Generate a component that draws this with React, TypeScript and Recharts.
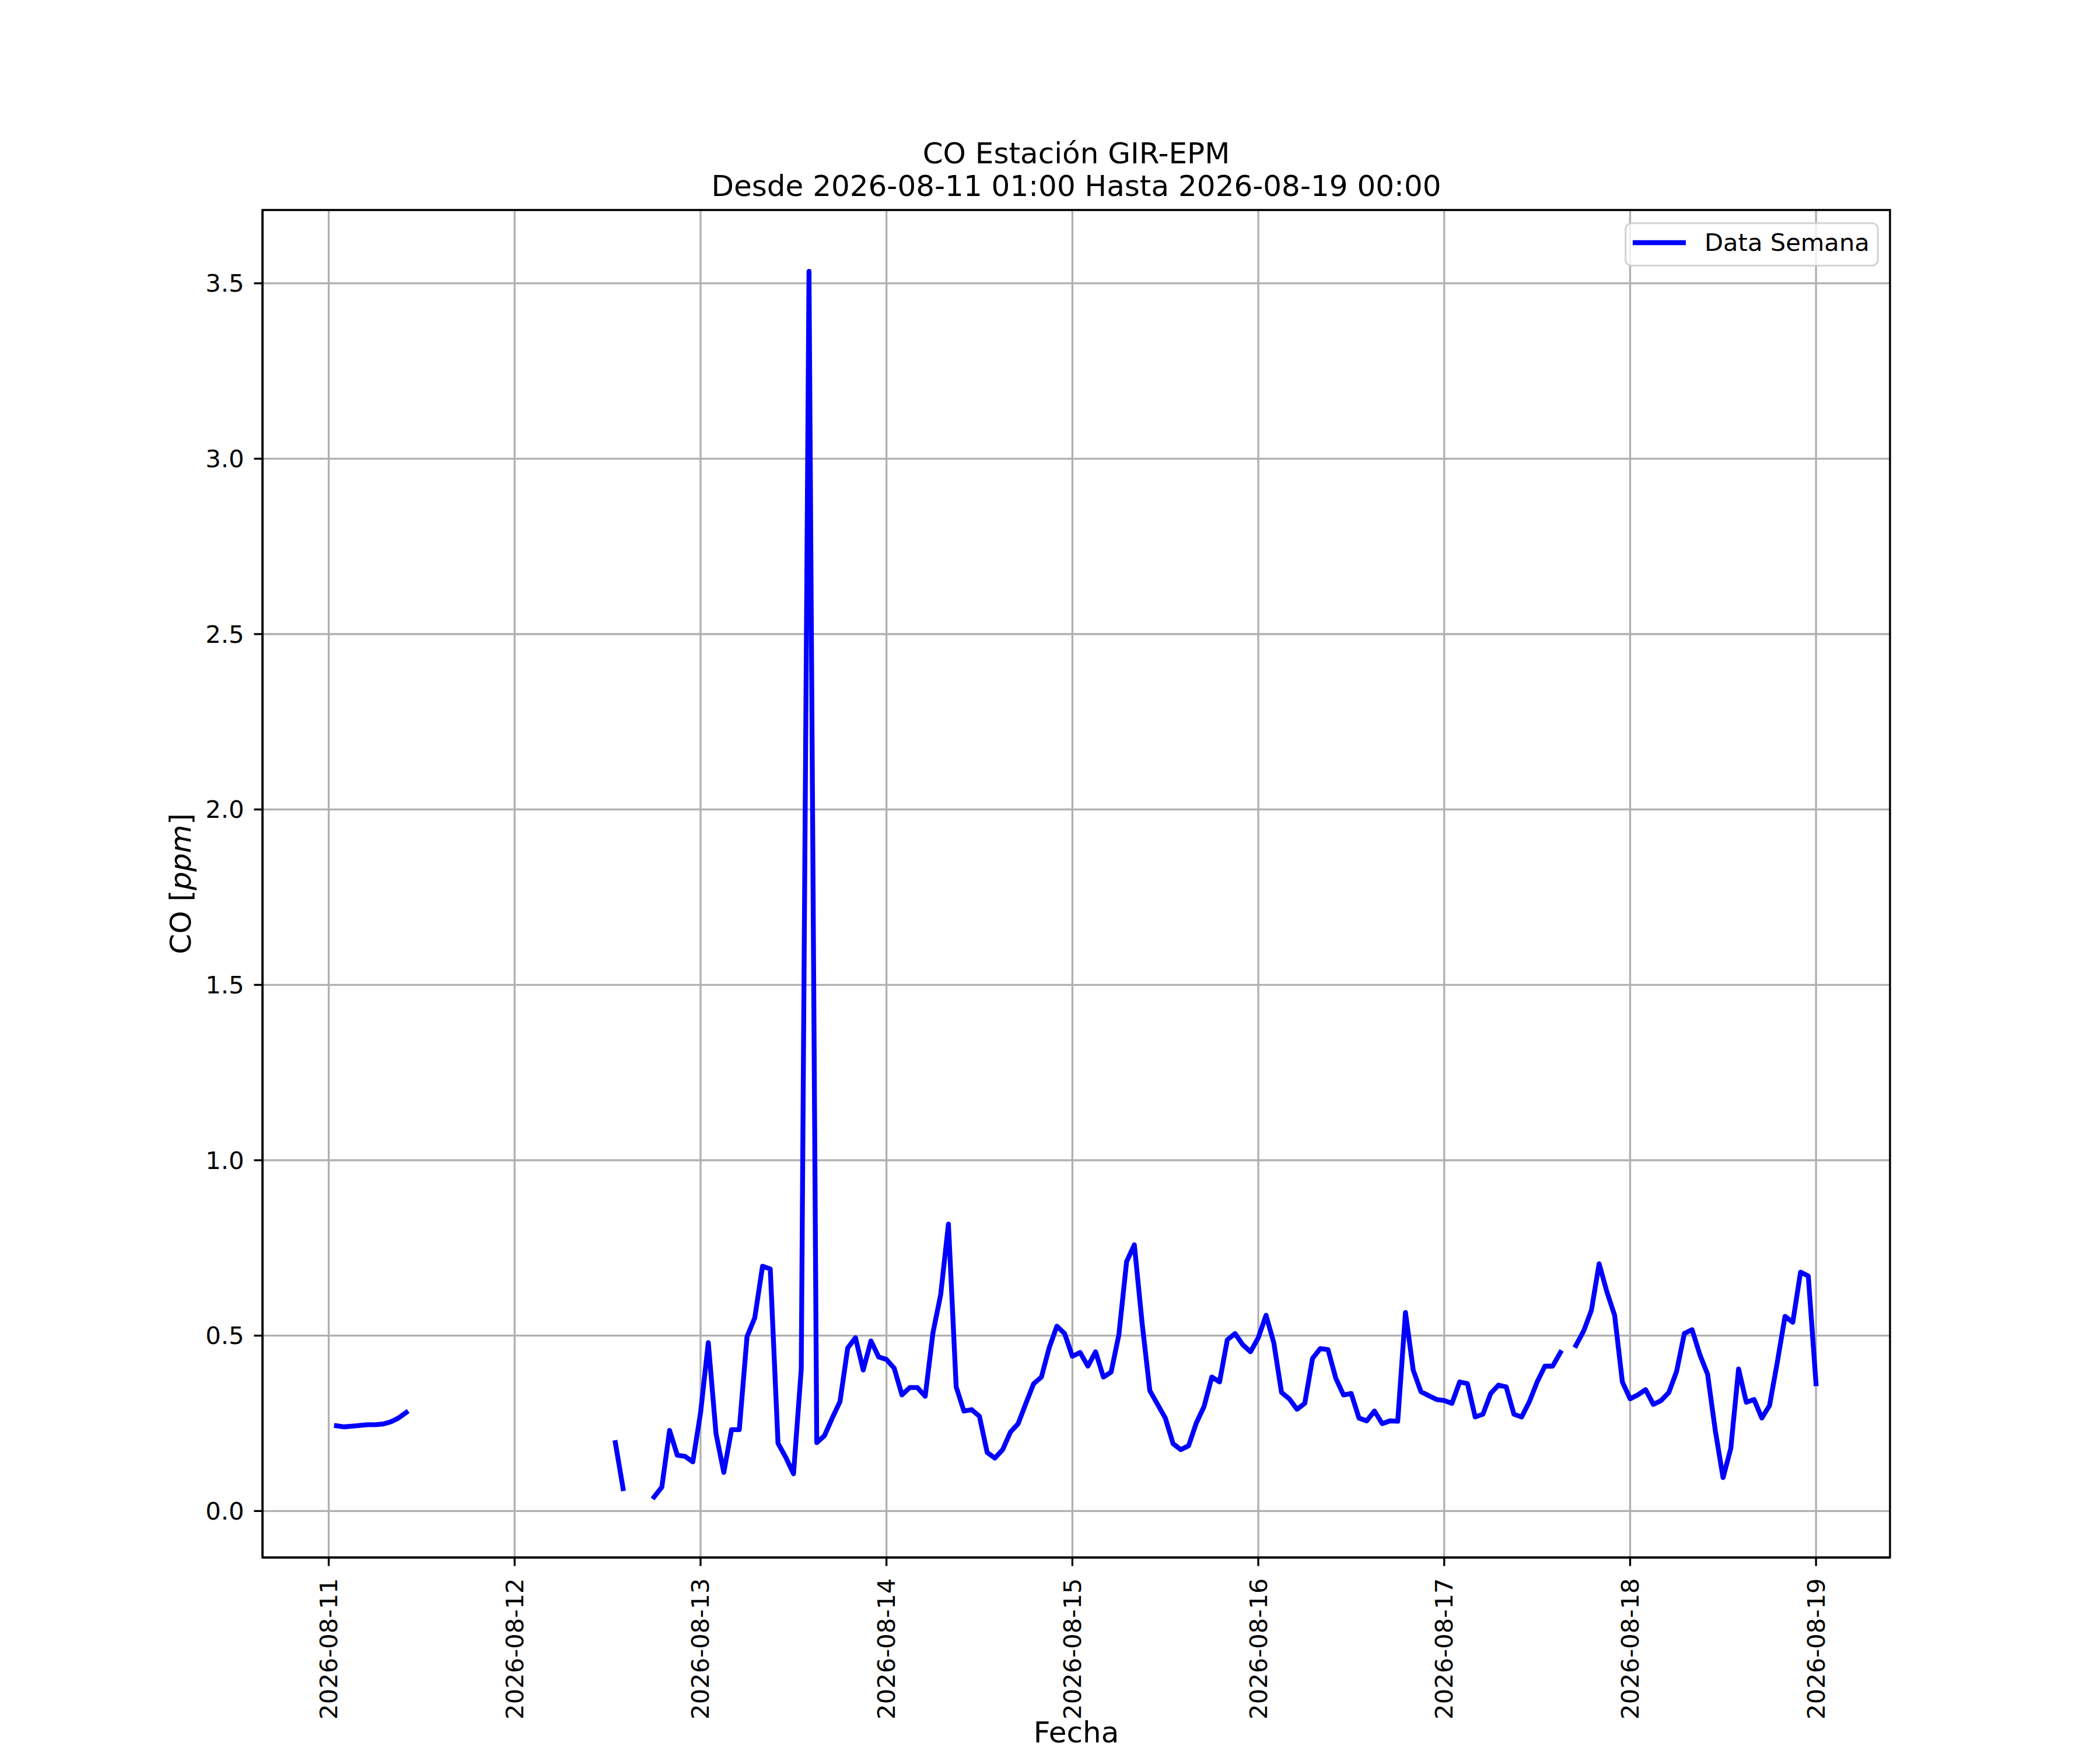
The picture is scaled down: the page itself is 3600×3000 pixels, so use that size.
import React from 'react';
import { LineChart, Line, XAxis, YAxis, CartesianGrid, Legend, ReferenceArea } from 'recharts';

// Hourly CO readings (ppm) from 2026-08-11 01:00 to 2026-08-19 00:00; null = no data
const DAY1: (number | null)[] = [0.243, 0.240, 0.242, 0.244, 0.246, 0.246, 0.248, 0.254, 0.265, 0.281, null, null, null, null, null, null, null, null, null, null, null, null, null, null];
const DAY2: (number | null)[] = [null, null, null, null, null, null, null, null, null, null, null, null, 0.195, 0.064, null, null, null, 0.04, 0.068, 0.23, 0.159, 0.156, 0.14, 0.28];
const DAY3: (number | null)[] = [0.48, 0.22, 0.11, 0.232, 0.232, 0.497, 0.551, 0.698, 0.69, 0.193, 0.153, 0.106, 0.405, 3.534, 0.195, 0.215, 0.265, 0.312, 0.465, 0.494, 0.402, 0.485, 0.439, 0.432];
const DAY4: (number | null)[] = [0.407, 0.331, 0.352, 0.352, 0.327, 0.508, 0.617, 0.818, 0.354, 0.285, 0.289, 0.27, 0.167, 0.151, 0.175, 0.225, 0.249, 0.307, 0.363, 0.382, 0.465, 0.527, 0.506, 0.441];
const DAY5: (number | null)[] = [0.452, 0.413, 0.454, 0.382, 0.396, 0.502, 0.711, 0.759, 0.536, 0.343, 0.304, 0.265, 0.192, 0.175, 0.186, 0.251, 0.298, 0.382, 0.368, 0.488, 0.506, 0.474, 0.454, 0.494];
const DAY6: (number | null)[] = [0.558, 0.48, 0.338, 0.32, 0.29, 0.307, 0.435, 0.463, 0.46, 0.379, 0.331, 0.335, 0.265, 0.257, 0.285, 0.249, 0.257, 0.256, 0.566, 0.402, 0.34, 0.329, 0.318, 0.315];
const DAY7: (number | null)[] = [0.307, 0.368, 0.363, 0.268, 0.276, 0.335, 0.359, 0.354, 0.276, 0.268, 0.312, 0.368, 0.413, 0.413, 0.452, null, 0.472, 0.513, 0.572, 0.705, 0.625, 0.558, 0.368, 0.32];
const DAY8: (number | null)[] = [0.331, 0.346, 0.304, 0.315, 0.338, 0.398, 0.506, 0.517, 0.446, 0.39, 0.229, 0.095, 0.179, 0.405, 0.31, 0.318, 0.265, 0.301, 0.424, 0.555, 0.538, 0.681, 0.67, 0.363];

const CO_VALUES: (number | null)[] = [...DAY1, ...DAY2, ...DAY3, ...DAY4, ...DAY5, ...DAY6, ...DAY7, ...DAY8];

// x ticks: hours since 2026-08-11 00:00
const X_TICKS = [0, 24, 48, 72, 96, 120, 144, 168, 192];
const X_TICK_LABELS = ['2026-08-11', '2026-08-12', '2026-08-13', '2026-08-14', '2026-08-15', '2026-08-16', '2026-08-17', '2026-08-18', '2026-08-19'];
const Y_TICKS = [0, 0.5, 1.0, 1.5, 2.0, 2.5, 3.0, 3.5];

const X_DOMAIN: [number, number] = [-8.55, 201.55];
const Y_DOMAIN: [number, number] = [-0.1325, 3.709];

const TITLE_1 = 'CO Estación GIR-EPM';
const TITLE_2 = 'Desde 2026-08-11 01:00 Hasta 2026-08-19 00:00';
const SERIES_NAME = 'Data Semana';

const data = CO_VALUES.map((v, i) => ({ h: i + 1, co: v }));

const FONT = 'DejaVu Sans';
const TICK_FS = 41.67;
const LABEL_FS = 50;
const LW = 3.33;

const XTick = (props: any) => {
  const { x, y, payload } = props;
  const idx = X_TICKS.indexOf(payload.value);
  const label = idx >= 0 ? X_TICK_LABELS[idx] : String(payload.value);
  return (
    <text
      x={x}
      y={y}
      transform={`rotate(-90 ${x} ${y})`}
      textAnchor="end"
      dominantBaseline="central"
      fontFamily={FONT}
      fontSize={TICK_FS}
      fill="#000"
    >
      {label}
    </text>
  );
};

const LegendBox = () => (
  <svg width={436} height={76} style={{ display: 'block' }}>
    <rect x={1.7} y={1.7} width={432.6} height={72.6} rx={10} ry={10} fill="#ffffff" fillOpacity={0.8} stroke="#cccccc" strokeOpacity={0.8} strokeWidth={LW} />
    <line x1={14} y1={35} x2={105} y2={35} stroke="#0000ff" strokeWidth={8.33} />
    <text x={137} y={49} fontFamily={FONT} fontSize={TICK_FS} fill="#000">{SERIES_NAME}</text>
  </svg>
);

export default function App() {
  return (
    <div style={{ position: 'absolute', left: 0, top: 0, width: 3600, height: 3000, background: '#fff' }}>
      <LineChart width={3600} height={3000} data={data} margin={{ top: 360, right: 360, bottom: 0, left: 0 }}>
        <CartesianGrid stroke="#b0b0b0" strokeWidth={LW} horizontal vertical />
        <XAxis
          dataKey="h"
          type="number"
          domain={X_DOMAIN}
          ticks={X_TICKS}
          interval={0}
          allowDataOverflow
          height={330}
          tick={<XTick />}
          tickSize={14.6}
          tickMargin={21}
          tickLine={{ stroke: '#000', strokeWidth: LW }}
          axisLine={{ stroke: '#000', strokeWidth: LW }}
        />
        <YAxis
          type="number"
          domain={Y_DOMAIN}
          ticks={Y_TICKS}
          interval={0}
          allowDataOverflow
          width={450}
          tickFormatter={(v: number) => v.toFixed(1)}
          tick={{ fill: '#000', fontSize: TICK_FS, fontFamily: FONT }}
          tickSize={14.6}
          tickMargin={17}
          tickLine={{ stroke: '#000', strokeWidth: LW }}
          axisLine={{ stroke: '#000', strokeWidth: LW }}
        />
        <Line
          dataKey="co"
          name={SERIES_NAME}
          type="linear"
          stroke="#0000ff"
          strokeWidth={8.33}
          strokeLinecap="square"
          strokeLinejoin="round"
          dot={false}
          activeDot={false}
          connectNulls={false}
          isAnimationActive={false}
        />
        <ReferenceArea
          x1={X_DOMAIN[0]}
          x2={X_DOMAIN[1]}
          y1={Y_DOMAIN[0]}
          y2={Y_DOMAIN[1]}
          fill="none"
          fillOpacity={0}
          stroke="#000"
          strokeWidth={LW}
          ifOverflow="visible"
        />
        <Legend
          layout="horizontal"
          verticalAlign="middle"
          align="center"
          wrapperStyle={{ position: 'absolute', left: 2785, top: 381, width: 436, height: 76, margin: 0, padding: 0 }}
          content={() => <LegendBox />}
        />
      </LineChart>
      <svg width={3600} height={3000} style={{ position: 'absolute', left: 0, top: 0, pointerEvents: 'none' }}>
        <text x={1845} y={280} textAnchor="middle" fontFamily={FONT} fontSize={LABEL_FS} fill="#000">{TITLE_1}</text>
        <text x={1845} y={336} textAnchor="middle" fontFamily={FONT} fontSize={LABEL_FS} fill="#000">{TITLE_2}</text>
        <text x={1845} y={2987} textAnchor="middle" fontFamily={FONT} fontSize={LABEL_FS} fill="#000">Fecha</text>
        <text x={327} y={1515} transform="rotate(-90 327 1515)" textAnchor="middle" fontFamily={FONT} fontSize={LABEL_FS} fill="#000">
          CO [<tspan fontStyle="italic">ppm</tspan>]
        </text>
      </svg>
    </div>
  );
}
